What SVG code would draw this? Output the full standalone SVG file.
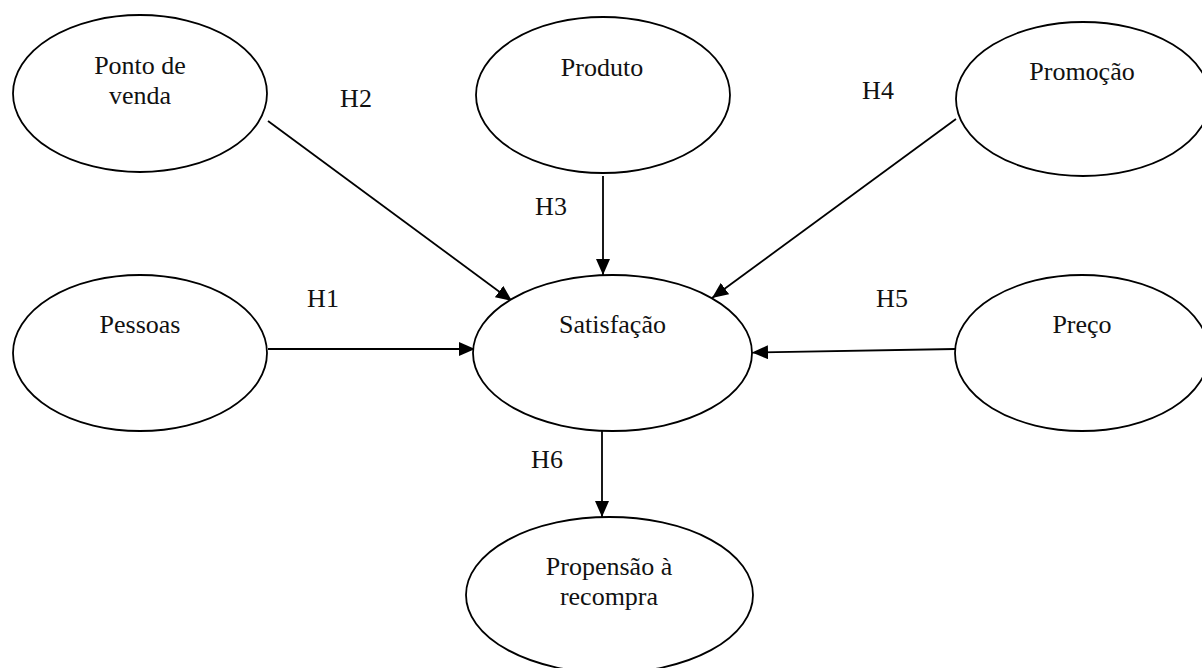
<svg xmlns="http://www.w3.org/2000/svg" width="1202" height="668" viewBox="0 0 1202 668">
<style>
.node ellipse{fill:#fff;stroke:#000;stroke-width:1.8}
text{font-family:"Liberation Serif","Times New Roman",serif;font-size:26px;fill:#111;text-anchor:middle}
.edge{stroke:#000;stroke-width:1.8;fill:none;marker-end:url(#ah)}
</style>
<defs>
<marker id="ah" markerWidth="16" markerHeight="14" refX="16" refY="7" orient="auto" markerUnits="userSpaceOnUse">
<path d="M0,0 L16,7 L0,14 Z" fill="#000"/>
</marker>
</defs>
<rect width="1202" height="668" fill="#fff"/>
<g id="connectors">
<line class="edge" x1="268" y1="121" x2="512" y2="301"/>
<line class="edge" x1="603" y1="176" x2="603" y2="275"/>
<line class="edge" x1="956" y1="119" x2="712" y2="298"/>
<line class="edge" x1="268" y1="349" x2="475" y2="349"/>
<line class="edge" x1="955" y1="349" x2="752" y2="352.5"/>
<line class="edge" x1="602" y1="431" x2="602" y2="517"/>
</g>
<g id="labels">
<text x="356" y="107">H2</text>
<text x="551" y="215">H3</text>
<text x="878" y="99">H4</text>
<text x="323" y="307">H1</text>
<text x="892" y="307">H5</text>
<text x="547" y="468">H6</text>
</g>
<g id="ponto-de-venda" class="node">
<ellipse cx="140" cy="93.5" rx="127" ry="78.5"/>
<text x="140" y="74">Ponto de</text>
<text x="140" y="104">venda</text>
</g>
<g id="produto" class="node">
<ellipse cx="603" cy="95" rx="127" ry="78"/>
<text x="602" y="76">Produto</text>
</g>
<g id="promocao" class="node">
<ellipse cx="1083" cy="99" rx="127" ry="77"/>
<text x="1082" y="80">Promoção</text>
</g>
<g id="pessoas" class="node">
<ellipse cx="140" cy="353" rx="127" ry="78"/>
<text x="140" y="333">Pessoas</text>
</g>
<g id="satisfacao" class="node">
<ellipse cx="612.5" cy="353" rx="139.5" ry="78"/>
<text x="612.5" y="333">Satisfação</text>
</g>
<g id="preco" class="node">
<ellipse cx="1082" cy="353" rx="127" ry="78"/>
<text x="1082" y="333">Preço</text>
</g>
<g id="propensao" class="node">
<ellipse cx="609.5" cy="595" rx="143.5" ry="78"/>
<text x="609" y="575">Propensão à</text>
<text x="609" y="605">recompra</text>
</g>
</svg>
